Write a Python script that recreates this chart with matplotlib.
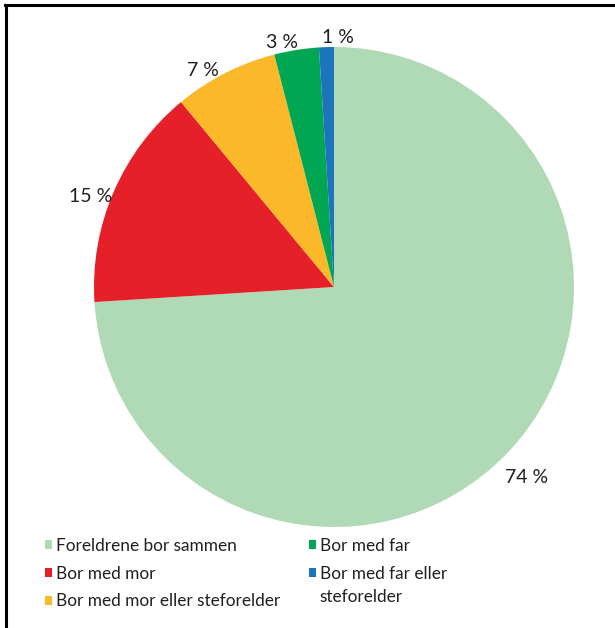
import matplotlib
matplotlib.use("Agg")
import numpy as np
import matplotlib.pyplot as plt
from matplotlib.lines import Line2D
from matplotlib.patches import Patch, Rectangle
from matplotlib.legend_handler import HandlerPatch

categories = ["Foreldrene bor sammen", "Bor med mor", "Bor med mor eller steforelder",
              "Bor med far", "Bor med far eller\nsteforelder"]
values = [74, 15, 7, 3, 1]
colors = ["#b0d9b5", "#e52029", "#fbb829", "#00a651", "#1c75bc"]
# label placement (angle in degrees, distance in radii) - layout only
label_angle = [-44.7, 159.7, 121.1, 102.0, 89.0]
label_dist = [1.13, 1.083, 1.055, 1.04, 1.04]

plt.rcParams['font.family'] = ['Lato', 'DejaVu Sans']
text_color = "#231f20"

W, H = 615, 628
fig = plt.figure(figsize=(W / 100, H / 100), dpi=100)
R = 240
cx, cy = 334, H - 287
ax = fig.add_axes([(cx - R) / W, (cy - R) / H, 2 * R / W, 2 * R / H])

wedges, texts, autotexts = ax.pie(values, colors=colors, startangle=90, counterclock=False,
                                  autopct=lambda p: f"{p:.0f} %", pctdistance=1.1,
                                  radius=1, wedgeprops=dict(linewidth=0))
for t, a, d in zip(autotexts, label_angle, label_dist):
    t.set_fontsize(14)
    t.set_color(text_color)
    ang = np.deg2rad(a)
    t.set_position((d * np.cos(ang), d * np.sin(ang)))
ax.set_xlim(-1, 1)
ax.set_ylim(-1, 1)
ax.set_aspect('equal')
ax.axis('off')


def make_shifted(shift):
    def f(legend, orig_handle, xdescent, ydescent, width, height, fontsize):
        return Rectangle((-xdescent, -ydescent + shift), width, height)
    return f


handles = [Patch(facecolor=c, edgecolor='none') for c in colors]
hmap = {handles[4]: HandlerPatch(patch_func=make_shifted(9.5))}
leg = fig.legend(handles, categories, ncol=2, loc='upper left',
                 bbox_to_anchor=(45 / W, 1 - 538 / H), frameon=False,
                 fontsize=12.4, handlelength=0.43, handleheight=0.43,
                 handletextpad=0.22, labelspacing=0.68, columnspacing=1.63,
                 borderpad=0, borderaxespad=0, handler_map=hmap)
for t in leg.get_texts():
    t.set_color(text_color)
leg.get_texts()[4].set_linespacing(1.55)

# frame lines
fig.add_artist(Line2D([5 / W, 1], [1 - 5 / H, 1 - 5 / H], color='black', linewidth=2.2,
                      transform=fig.transFigure))
fig.add_artist(Line2D([6 / W, 6 / W], [0, 1 - 5 / H], color='black', linewidth=2.2,
                      transform=fig.transFigure))

fig.savefig("out.png", dpi=100)
